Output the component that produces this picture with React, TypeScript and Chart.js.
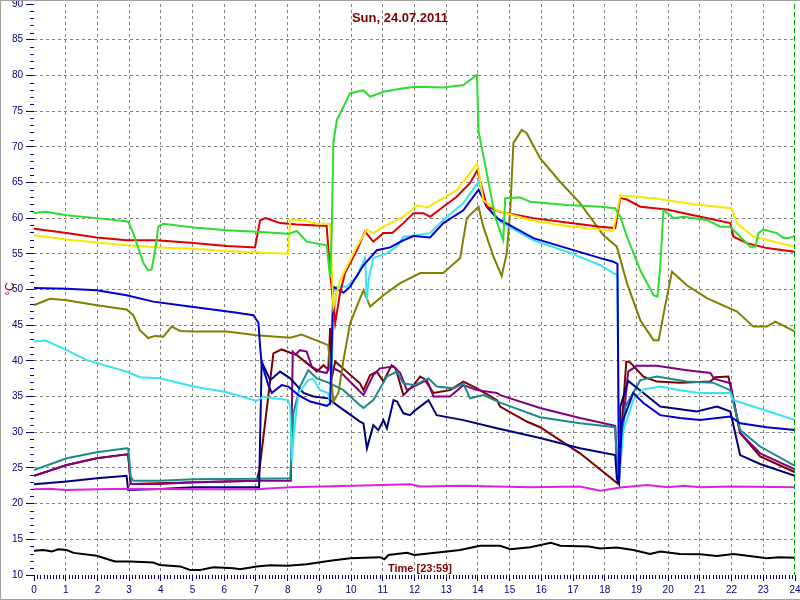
import React, { useEffect, useRef } from "react";
import { Chart, registerables } from "chart.js";

Chart.register(...registerables);

type P = [number, number];

// hours (x) vs °C (y)
const green: P[] = [[0,60.7],[0.37,60.9],[1.03,60.4],[1.98,60.0],[2.82,59.6],[2.97,59.5],[3.13,57.9],[3.45,53.7],[3.6,52.7],[3.71,52.8],[3.82,55.5],[3.92,58.8],[4.08,59.2],[5.03,58.7],[6.08,58.3],[7.02,58.1],[8.02,57.8],[8.29,58.2],[8.6,56.7],[9.23,56.2],[9.34,51.6],[9.39,57.9],[9.44,70.5],[9.55,73.75],[9.76,75.6],[9.97,77.5],[10.39,77.9],[10.6,77.0],[11.02,77.7],[11.65,78.2],[12.07,78.4],[12.91,78.3],[13.54,78.65],[13.97,80.05],[14.02,72.1],[14.28,66.3],[14.54,60.2],[14.8,56.9],[14.86,62.8],[15.33,62.9],[15.65,62.3],[16.8,61.85],[17.86,61.6],[18.33,61.4],[18.49,60.2],[18.7,57.4],[19.12,52.7],[19.54,49.2],[19.66,49.0],[19.75,53.2],[19.85,61.1],[20.06,60.4],[20.17,60.0],[20.48,60.2],[21.22,59.75],[21.64,58.8],[21.96,58.8],[22.27,57.4],[22.59,56.0],[22.75,56.0],[22.85,57.9],[23.0,58.4],[23.43,57.9],[23.64,57.2],[23.8,57.2],[24,57.5]];

const red: P[] = [[0,58.5],[1.03,57.9],[1.98,57.3],[2.92,56.9],[3.87,56.9],[5.03,56.5],[6.08,56.1],[6.97,55.9],[7.13,59.7],[7.3,60.0],[7.44,59.8],[7.76,59.3],[8.29,59.1],[9.23,58.9],[9.34,52.3],[9.5,45.3],[9.65,49.5],[9.81,52.3],[10.18,55.5],[10.44,58.1],[10.7,56.7],[11.02,57.9],[11.3,57.9],[11.65,59.3],[11.97,60.7],[12.28,60.7],[12.49,60.2],[12.91,61.6],[13.33,63.0],[13.75,64.9],[13.98,66.7],[14.12,64.4],[14.28,61.6],[14.7,60.9],[15.75,60.0],[16.8,59.4],[17.86,58.8],[18.33,58.6],[18.49,62.8],[18.7,62.6],[19.12,61.6],[19.96,61.2],[21.01,60.2],[21.96,59.3],[22.06,57.4],[22.48,56.5],[23.11,55.8],[24,55.3]];

const yellow: P[] = [[0,57.6],[1.03,57.0],[1.98,56.6],[2.92,56.2],[3.97,55.9],[5.03,55.7],[6.08,55.4],[7.13,55.2],[8.02,55.0],[8.08,59.8],[8.5,59.7],[8.92,59.2],[9.34,59.2],[9.39,53.2],[9.44,47.6],[9.65,51.3],[9.97,54.1],[10.18,56.0],[10.5,58.4],[10.7,57.9],[11.02,58.8],[11.65,60.2],[12.07,61.8],[12.4,61.5],[13.33,63.9],[13.75,66.3],[13.98,67.7],[14.17,62.5],[14.6,61.1],[15.65,59.7],[16.8,58.9],[18.27,58.2],[18.49,63.2],[19.54,62.8],[20.8,61.95],[22.0,61.4],[22.17,59.3],[22.69,57.4],[24,56.0]];

const blue: P[] = [[0,50.2],[1.03,50.1],[1.98,49.9],[2.92,49.2],[3.76,48.3],[4.61,47.8],[5.45,47.3],[6.29,46.8],[6.92,46.4],[7.08,45.3],[7.13,42.0],[7.18,39.7],[7.39,36.6],[7.5,35.5],[7.81,36.6],[8.02,36.4],[8.34,35.2],[8.71,34.3],[9.23,33.7],[9.34,34.0],[9.44,50.4],[9.76,49.55],[9.97,50.4],[10.39,53.4],[10.81,55.5],[11.23,55.9],[11.65,56.9],[11.97,57.5],[12.49,57.3],[12.91,59.3],[13.54,61.1],[14.02,64.0],[14.28,61.6],[14.6,60.0],[15.75,57.2],[16.8,55.8],[17.86,54.4],[18.27,53.9],[18.4,53.6],[18.45,23.0],[18.54,31.25],[18.9,35.5],[19.22,34.1],[19.75,32.4],[20.37,32.0],[21.0,31.7],[21.96,32.2],[22.27,31.25],[23.11,30.7],[24,30.3]];

const cyan: P[] = [[0,42.7],[0.37,42.85],[1.03,41.5],[1.66,40.1],[1.98,39.7],[2.92,38.5],[3.34,37.7],[3.97,37.55],[5.03,36.4],[6.08,35.6],[7.02,34.4],[7.23,35.0],[7.5,34.8],[8.02,34.5],[8.08,33.6],[8.13,26.0],[8.2,30.0],[8.34,35.5],[8.65,37.3],[8.8,37.5],[9.02,35.9],[9.28,35.5],[9.34,33.8],[9.44,45.3],[9.55,50.4],[9.86,50.4],[10.18,51.8],[10.44,54.4],[10.5,48.5],[10.55,51.3],[10.7,54.4],[11.13,55.1],[11.44,56.0],[11.65,57.4],[12.07,57.6],[12.49,57.9],[12.91,59.75],[13.54,62.1],[14.02,65.1],[14.28,61.6],[14.6,60.2],[14.7,59.5],[15.75,56.9],[16.8,55.3],[17.86,53.4],[18.27,52.3],[18.4,52.0],[18.45,23.3],[18.59,30.3],[18.9,34.5],[19.22,36.0],[19.75,36.4],[20.37,35.9],[21.0,35.5],[21.96,35.5],[22.06,34.5],[22.69,33.6],[24,31.7]];

const olive: P[] = [[0,47.8],[0.5,48.7],[1.03,48.5],[1.98,47.8],[2.92,47.2],[3.13,46.4],[3.34,44.3],[3.6,43.2],[3.82,43.5],[4.08,43.4],[4.34,44.8],[4.61,44.2],[5.03,44.1],[6.08,44.1],[7.02,43.6],[8.08,43.25],[8.44,43.7],[9.28,42.2],[9.44,34.3],[9.6,35.5],[9.76,40.1],[9.97,45.3],[10.39,49.9],[10.6,47.6],[11.02,49.2],[11.55,50.9],[12.18,52.3],[12.91,52.3],[13.44,54.4],[13.65,60.0],[14.02,61.6],[14.17,58.8],[14.49,54.6],[14.75,51.9],[14.91,55.1],[15.02,61.1],[15.12,70.5],[15.38,72.35],[15.54,71.9],[15.96,68.4],[16.59,65.1],[17.22,62.1],[17.96,57.6],[18.38,56.0],[18.7,50.9],[19.12,45.7],[19.54,42.9],[19.7,42.9],[19.9,47.6],[20.12,52.5],[20.59,50.6],[21.22,48.8],[22.17,46.9],[22.69,44.8],[23.11,44.8],[23.38,45.5],[24,44.1]];

const navy: P[] = [[0,22.7],[1.03,23.1],[1.98,23.55],[2.92,23.9],[2.97,21.9],[3.97,22.05],[5.03,22.3],[7.02,22.3],[7.1,22.3],[7.18,39.9],[7.45,37.3],[7.76,38.5],[8.08,37.55],[8.5,35.5],[8.81,35.0],[9.28,34.75],[9.55,33.8],[10.28,31.5],[10.39,31.25],[10.5,27.75],[10.7,31.0],[10.86,30.3],[11.02,31.7],[11.13,30.55],[11.34,34.5],[11.45,34.3],[11.65,32.65],[11.86,32.4],[12.0,33.0],[12.44,34.5],[12.7,32.4],[13.54,31.7],[14.6,30.55],[15.96,29.2],[17.22,27.75],[18.33,26.8],[18.38,23.55],[18.45,22.8],[18.49,33.6],[18.74,37.2],[19.22,35.5],[19.75,33.6],[20.9,32.9],[21.54,33.6],[21.96,32.9],[22.27,26.8],[22.9,25.55],[24,23.9]];

const teal: P[] = [[0,24.7],[1.03,26.35],[1.98,27.2],[2.92,27.75],[2.97,27.7],[3.05,23.8],[3.13,23.2],[3.97,23.2],[5.03,23.4],[7.02,23.5],[8.08,23.55],[8.18,32.65],[8.39,36.4],[8.65,38.7],[8.92,37.55],[9.34,36.85],[9.76,35.9],[10.28,33.8],[10.39,33.4],[10.7,34.5],[11.13,37.8],[11.44,38.5],[11.65,36.85],[12.0,36.6],[12.44,37.55],[12.7,36.4],[13.23,36.15],[13.54,36.85],[13.75,34.75],[14.17,35.2],[14.7,34.15],[15.96,32.1],[17.22,31.25],[18.33,30.7],[18.4,24.0],[18.65,33.6],[19.12,37.3],[19.64,37.8],[20.59,37.1],[21.41,36.95],[21.96,35.9],[22.27,30.3],[22.9,28.0],[24,25.3]];

const purple: P[] = [[0,23.9],[1.03,25.4],[1.98,26.35],[2.92,26.9],[2.97,26.9],[3.05,22.75],[3.97,22.75],[5.03,23.0],[7.02,23.2],[8.1,23.2],[8.16,41.3],[8.25,40.9],[8.39,41.5],[8.6,41.3],[8.76,39.2],[9.02,38.5],[9.23,38.3],[9.3,39.0],[9.34,39.2],[9.65,38.5],[10.28,35.7],[10.39,35.2],[10.7,38.0],[10.91,38.95],[11.34,39.2],[11.55,38.3],[11.76,35.9],[12.07,36.6],[12.39,37.3],[12.6,35.0],[13.12,35.0],[13.54,36.6],[13.97,35.9],[14.6,35.5],[14.7,35.2],[15.96,33.4],[17.22,32.0],[18.33,30.9],[18.4,23.5],[18.74,38.5],[19.01,39.3],[19.64,39.3],[20.59,38.7],[21.33,38.3],[21.45,37.5],[21.96,36.85],[22.27,29.9],[22.9,27.05],[24,24.8]];

const maroon: P[] = [[0,23.9],[1.03,25.4],[1.98,26.35],[2.92,26.9],[2.97,26.9],[3.05,22.75],[7.02,23.2],[7.11,24.7],[7.55,41.05],[7.81,41.6],[8.29,40.8],[8.81,38.95],[8.92,38.5],[9.13,39.4],[9.28,38.8],[9.34,44.6],[9.4,37.8],[9.5,39.9],[10.28,36.85],[10.39,35.9],[10.6,38.0],[10.81,38.5],[11.02,37.1],[11.28,39.4],[11.4,39.0],[11.65,35.2],[11.97,36.6],[12.18,37.8],[12.3,37.5],[12.6,35.5],[13.12,35.9],[13.54,37.1],[13.97,36.15],[14.6,34.5],[14.7,33.6],[15.54,31.5],[15.96,30.7],[17.22,27.05],[18.4,22.85],[18.54,31.25],[18.68,39.9],[18.8,39.8],[19.22,37.8],[19.64,37.1],[20.37,36.95],[21.33,37.1],[21.48,37.7],[21.9,37.8],[22.06,34.5],[22.27,29.9],[22.9,26.6],[24,24.4]];

const magenta: P[] = [[0,22.0],[0.5,22.1],[1,21.9],[2,22.0],[3,22.1],[5,22.0],[7,22.0],[8.08,22.3],[10.07,22.5],[11.86,22.7],[12.2,22.4],[13.54,22.5],[15.65,22.3],[17.22,22.4],[17.86,21.8],[18.49,22.25],[19.33,22.6],[20.0,22.3],[20.5,22.5],[21.0,22.3],[22,22.4],[24,22.3]];

const black: P[] = [[0,13.4],[0.3,13.5],[0.56,13.3],[0.77,13.6],[1.03,13.5],[1.25,13.1],[1.98,12.7],[2.4,12.1],[2.56,11.9],[3.03,11.9],[3.76,11.75],[3.97,11.4],[4.61,11.2],[4.92,10.7],[5.24,10.7],[5.66,11.1],[6.29,10.95],[6.5,10.8],[7.02,11.2],[7.45,11.35],[8.0,11.3],[8.6,11.5],[9.34,12.0],[9.97,12.35],[10.91,12.5],[11.05,12.2],[11.18,12.8],[11.76,13.1],[12.0,12.8],[13.02,13.3],[13.44,13.5],[14.07,14.1],[14.7,14.1],[15.02,13.6],[15.65,13.9],[16.3,14.5],[16.6,14.1],[17.5,14.0],[17.86,13.7],[18.38,13.85],[18.9,13.5],[19.43,12.95],[19.75,13.3],[20.37,12.95],[21.0,12.9],[21.54,12.65],[22.06,12.95],[22.5,12.7],[23.11,12.35],[23.5,12.5],[24,12.4]];

const xMin = 0, xMax = 24, xStep = 1;
const yMin = 10, yMax = 90, yStep = 5;
const titleText = "Sun, 24.07.2011";
const timeText = "Time [23:59]";
const unitText = "°C";

const series: { data: P[]; color: string }[] = [
  { data: magenta, color: "#e020e0" },
  { data: black, color: "#000000" },
  { data: green, color: "#2edc2e" },
  { data: yellow, color: "#f8e800" },
  { data: red, color: "#dd0000" },
  { data: blue, color: "#0000d0" },
  { data: cyan, color: "#38e4f4" },
  { data: olive, color: "#808000" },
  { data: navy, color: "#000080" },
  { data: teal, color: "#1a8a8a" },
  { data: purple, color: "#800080" },
  { data: maroon, color: "#7a0000" },
];

const FONT = "'Liberation Sans', Arial, sans-serif";
const TICK_COLOR = "#000080";

const decor = {
  id: "decor",
  afterDraw(chart: any) {
    const { ctx, chartArea } = chart;
    const xs = chart.scales.x;
    const ys = chart.scales.y;
    ctx.save();
    // minor ticks
    ctx.strokeStyle = TICK_COLOR;
    ctx.lineWidth = 1;
    ctx.beginPath();
    for (let v = yMin; v <= yMax; v += 1) {
      if (v % yStep === 0) continue;
      const y = Math.round(ys.getPixelForValue(v)) + 0.5;
      ctx.moveTo(chartArea.left - 4, y);
      ctx.lineTo(chartArea.left, y);
    }
    for (let i = 0; i <= (xMax - xMin) * 10; i++) {
      if (i % 10 === 0) continue;
      const x = Math.round(xs.getPixelForValue(xMin + i / 10)) + 0.5;
      ctx.moveTo(x, chartArea.bottom);
      ctx.lineTo(x, chartArea.bottom + 4);
    }
    ctx.stroke();
    // green dashed marker at end
    ctx.strokeStyle = "#009a00";
    ctx.setLineDash([5, 3]);
    ctx.beginPath();
    const xe = Math.round(xs.getPixelForValue(xMax)) - 0.5;
    ctx.moveTo(xe, chartArea.top);
    ctx.lineTo(xe, chartArea.bottom);
    ctx.stroke();
    ctx.setLineDash([]);
    // texts
    ctx.fillStyle = "#800000";
    ctx.textAlign = "center";
    ctx.textBaseline = "middle";
    ctx.font = `bold 13px ${FONT}`;
    ctx.fillText(titleText, 400, 18);
    ctx.font = `bold 11px ${FONT}`;
    ctx.fillText(timeText, 420, 569);
    ctx.save();
    ctx.translate(11, 289);
    ctx.rotate(-Math.PI / 2);
    ctx.font = `12px ${FONT}`;
    ctx.fillText(unitText, 0, 0);
    ctx.restore();
    // frame
    ctx.fillStyle = "#a0a0a0";
    ctx.fillRect(0, 0, 800, 1);
    ctx.fillRect(0, 0, 1, 600);
    ctx.fillRect(0, 599, 800, 1);
    ctx.restore();
  },
};

function zeroPad(s: any) {
  s.paddingLeft = 0;
  s.paddingRight = 0;
  s.paddingTop = 0;
  s.paddingBottom = 0;
}

export default function App() {
  const ref = useRef<HTMLCanvasElement | null>(null);
  useEffect(() => {
    const canvas = ref.current!;
    const chart = new Chart(canvas, {
      type: "line",
      data: {
        datasets: series.map((s) => ({
          data: s.data.map(([x, y]) => ({ x, y })),
          borderColor: s.color,
          backgroundColor: s.color,
          borderWidth: 2,
          pointRadius: 0,
          tension: 0,
          fill: false,
        })),
      },
      options: {
        animation: false,
        responsive: false,
        devicePixelRatio: 1,
        layout: { padding: { left: 0, top: 4, right: 5, bottom: 0 } },
        plugins: {
          legend: { display: false },
          tooltip: { enabled: false },
          title: { display: false },
        },
        scales: {
          x: {
            type: "linear",
            min: xMin,
            max: xMax,
            ticks: {
              stepSize: xStep,
              autoSkip: false,
              maxRotation: 0,
              padding: 3,
              color: TICK_COLOR,
              font: { family: FONT, size: 10 },
            },
            grid: {
              color: (c: any) =>
                c.tick && (c.tick.value === xMin || c.tick.value === xMax) ? "rgba(0,0,0,0)" : "#808080",
              lineWidth: 1,
              tickLength: 6,
              tickColor: TICK_COLOR,
              drawTicks: true,
            },
            border: { display: false, dash: [3, 3] },
            afterFit: (s: any) => {
              s.height = 25;
              zeroPad(s);
            },
          },
          y: {
            type: "linear",
            min: yMin,
            max: yMax,
            ticks: {
              stepSize: yStep,
              padding: 3,
              color: TICK_COLOR,
              font: { family: FONT, size: 10 },
            },
            grid: {
              color: (c: any) =>
                c.tick && (c.tick.value === yMin || c.tick.value === yMax) ? "rgba(0,0,0,0)" : "#808080",
              lineWidth: 1,
              tickLength: 8,
              tickColor: TICK_COLOR,
              drawTicks: true,
            },
            border: { display: false, dash: [3, 3] },
            afterFit: (s: any) => {
              s.width = 34;
              zeroPad(s);
            },
          },
        },
      } as any,
      plugins: [decor],
    });
    return () => chart.destroy();
  }, []);
  return (
    <div style={{ position: "fixed", left: 0, top: 0, width: 800, height: 600, background: "#fff" }}>
      <canvas ref={ref} width={800} height={600} style={{ display: "block" }} />
    </div>
  );
}
